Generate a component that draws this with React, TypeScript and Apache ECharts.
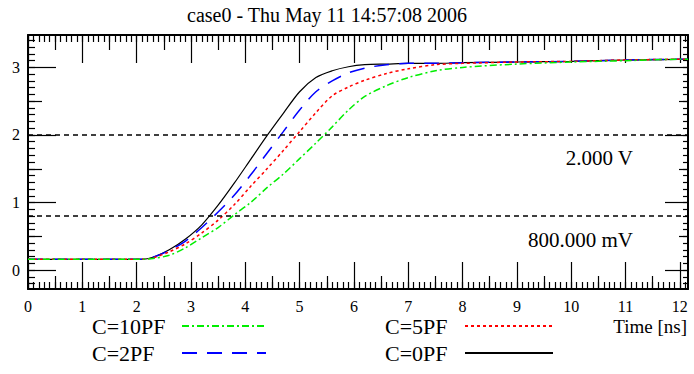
import React, { useEffect, useRef } from "react";
import * as echarts from "echarts";

const titleText = "case0 - Thu May 11 14:57:08 2006";
const xName = "Time [ns]";
const seriesNames = ["C=0PF", "C=2PF", "C=5PF", "C=10PF"];
const times = [0, 2.1, 2.3, 2.6, 2.9, 3.2, 3.5, 3.8, 4.1, 4.4, 4.7, 5.0, 5.3, 5.6, 5.9, 6.2, 6.6, 7.0, 7.5, 8.0, 9.0, 10.0, 11.0, 12.0, 12.15];
const c0 = [0.16, 0.16, 0.19, 0.30, 0.46, 0.67, 0.96, 1.29, 1.64, 1.99, 2.32, 2.64, 2.85, 2.95, 3.01, 3.04, 3.05, 3.06, 3.06, 3.07, 3.08, 3.09, 3.11, 3.12, 3.12];
const c2 = [0.16, 0.16, 0.19, 0.29, 0.43, 0.63, 0.86, 1.11, 1.41, 1.73, 2.05, 2.37, 2.64, 2.80, 2.92, 2.99, 3.04, 3.06, 3.06, 3.07, 3.08, 3.09, 3.11, 3.12, 3.12];
const c5 = [0.16, 0.16, 0.18, 0.27, 0.39, 0.55, 0.74, 0.97, 1.24, 1.50, 1.77, 2.05, 2.33, 2.58, 2.71, 2.81, 2.91, 2.98, 3.04, 3.06, 3.08, 3.09, 3.11, 3.12, 3.12];
const c10 = [0.16, 0.16, 0.17, 0.22, 0.33, 0.48, 0.63, 0.82, 1.00, 1.22, 1.42, 1.65, 1.88, 2.12, 2.37, 2.57, 2.73, 2.85, 2.95, 3.00, 3.05, 3.08, 3.10, 3.12, 3.12];
const refLevels = [2.0, 0.8];
const refLabels = ["2.000 V", "800.000 mV"];
const xTickLabels = [0, 1, 2, 3, 4, 5, 6, 7, 8, 9, 10, 11, 12];
const yTickLabels = [0, 1, 2, 3];

const X_MIN = 0, X_MAX = 12.15, Y_MIN = -0.28, Y_MAX = 3.48;
const FONT = "Liberation Serif";

const steps = (from: number, to: number, step: number) => {
  const out: number[] = [];
  for (let v = from; v <= to + 1e-9; v += step) out.push(+v.toFixed(2));
  return out;
};
const xMid = steps(0.5, 12, 1);
const xMinor = steps(0, 12.1, 0.1);
const yMid = steps(-0.5, 3, 1).filter((v) => v > Y_MIN);
const yMinor = steps(-0.2, 3.4, 0.1);

const pair = (vals: number[]) => times.map((t, i) => [t, vals[i]]);

function xAx(position: string, ticks: number[], len: number, main: boolean) {
  return {
    type: "value", min: X_MIN, max: X_MAX, position,
    axisLine: { show: main, onZero: false, lineStyle: { color: "#000", width: 2 } },
    axisTick: { show: true, inside: true, length: len, customValues: ticks, lineStyle: { color: "#000", width: 1.2 } },
    axisLabel: main && position === "bottom"
      ? { show: true, customValues: xTickLabels, margin: 9, color: "#000", fontFamily: FONT, fontSize: 16 }
      : { show: false },
    splitLine: { show: false },
  };
}
function yAx(position: string, ticks: number[], len: number, main: boolean) {
  return {
    type: "value", min: Y_MIN, max: Y_MAX, position,
    axisLine: { show: main, onZero: false, lineStyle: { color: "#000", width: 2 } },
    axisTick: { show: true, inside: true, length: len, customValues: ticks, lineStyle: { color: "#000", width: 1.2 } },
    axisLabel: main && position === "left"
      ? { show: true, customValues: yTickLabels, margin: 8, color: "#000", fontFamily: FONT, fontSize: 16 }
      : { show: false },
    splitLine: { show: false },
  };
}

export default function App() {
  const ref = useRef<HTMLDivElement>(null);
  useEffect(() => {
    if (!ref.current) return;
    const chart = echarts.init(ref.current, null, { renderer: "svg" });
    const legendRich = (w: number) => ({
      fontFamily: FONT, fontSize: 22, color: "#000", lineHeight: 24,
      rich: { n: { fontFamily: FONT, fontSize: 22, color: "#000", lineHeight: 24, width: w, align: "left" } },
    });
    chart.setOption({
      animation: false,
      backgroundColor: "#fff",
      title: [
        { text: titleText, left: 182, top: 0, textStyle: { fontFamily: FONT, fontSize: 20, fontWeight: "normal", color: "#000" } },
        { text: xName, right: 2, top: 312, textStyle: { fontFamily: FONT, fontSize: 19, fontWeight: "normal", color: "#000" } },
      ],
      grid: { left: 28, right: 6, top: 35, bottom: 85 },
      legend: [
        {
          data: [seriesNames[3], seriesNames[1]], orient: "vertical", left: 87, top: 309, align: "right",
          itemWidth: 84, itemHeight: 14, itemGap: 3, selectedMode: false,
          itemStyle: { opacity: 0 },
          formatter: "{n|{name}}",
          textStyle: legendRich(85),
        },
        {
          data: [seriesNames[2], seriesNames[0]], orient: "vertical", left: 380, top: 309, align: "right",
          itemWidth: 88, itemHeight: 14, itemGap: 3, selectedMode: false,
          itemStyle: { opacity: 0 },
          formatter: "{n|{name}}",
          textStyle: legendRich(75),
        },
      ],
      xAxis: [
        xAx("bottom", xTickLabels, 27, true), xAx("bottom", xMid, 13, false), xAx("bottom", xMinor, 7, false),
        xAx("top", xTickLabels, 28, true), xAx("top", xMid, 15, false), xAx("top", xMinor, 7, false),
      ],
      yAxis: [
        yAx("left", yTickLabels, 28, true), yAx("left", yMid, 14, false), yAx("left", yMinor, 7, false),
        yAx("right", yTickLabels, 23, true), yAx("right", yMid, 9, false), yAx("right", yMinor, 5, false),
      ],
      series: [
        {
          name: seriesNames[0], type: "line", data: pair(c0), symbol: "none", smooth: 0.3,
          lineStyle: { color: "#000", width: 1.2, type: "solid" }, itemStyle: { color: "#000" },
          markLine: {
            silent: true, symbol: "none",
            lineStyle: { color: "#000", width: 1.5, type: [5, 4] },
            label: {
              show: true, position: "insideEndBottom", distance: [55, 13], color: "#000",
              fontFamily: FONT, fontSize: 21,
              formatter: (p: any) => refLabels[p.dataIndex],
            },
            data: refLevels.map((v) => ({ yAxis: v })),
          },
        },
        {
          name: seriesNames[1], type: "line", data: pair(c2), symbol: "none", smooth: 0.3,
          lineStyle: { color: "#0000ff", width: 1.5, type: [15, 10] }, itemStyle: { color: "#0000ff" },
        },
        {
          name: seriesNames[2], type: "line", data: pair(c5), symbol: "none", smooth: 0.3,
          lineStyle: { color: "#ff0000", width: 1.5, type: [3, 3] }, itemStyle: { color: "#ff0000" },
        },
        {
          name: seriesNames[3], type: "line", data: pair(c10), symbol: "none", smooth: 0.3,
          lineStyle: { color: "#00ee00", width: 1.5, type: [7, 3, 2, 3] }, itemStyle: { color: "#00ee00" },
        },
      ],
    });
    return () => chart.dispose();
  }, []);
  return <div ref={ref} style={{ position: "absolute", left: 0, top: 0, width: 694, height: 374 }} />;
}
